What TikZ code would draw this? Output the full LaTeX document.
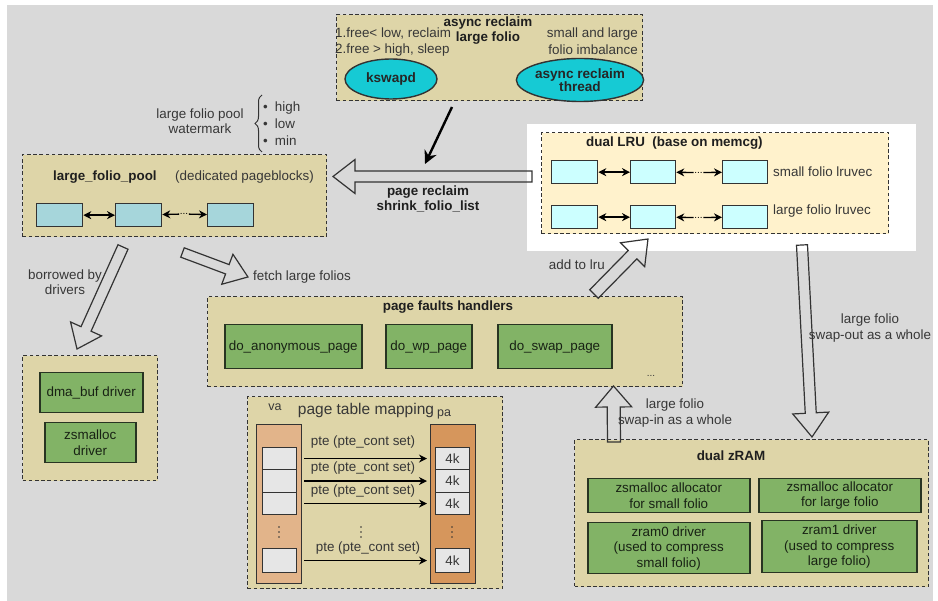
\documentclass[tikz,border=0pt]{standalone}
\usepackage{fontspec}
\setmainfont{Liberation Sans}
\usetikzlibrary{arrows.meta,calc,shapes.geometric,decorations.pathreplacing}

\definecolor{bggray}{RGB}{217,217,217}
\definecolor{tanfill}{RGB}{222,213,168}
\definecolor{lrufill}{RGB}{255,242,204}
\definecolor{cyanell}{RGB}{22,202,212}
\definecolor{poolcellc}{RGB}{166,214,219}
\definecolor{lrucellc}{RGB}{204,255,255}
\definecolor{gboxfill}{RGB}{130,179,102}
\definecolor{gboxline}{RGB}{40,52,34}
\definecolor{gtext}{RGB}{24,34,20}
\definecolor{vafill}{RGB}{226,180,138}
\definecolor{pafill}{RGB}{214,150,92}
\definecolor{slotgray}{RGB}{230,230,230}
\definecolor{ink}{RGB}{51,51,51}
\definecolor{lblink}{RGB}{55,55,55}

% box placed by its top-left and bottom-right corners
\def\placebox#1#2(#3,#4)(#5,#6)#7{\node[#1,anchor=north west,minimum width={#5-#3},minimum height={#6-#4}] (#2) at (#3,#4) {#7};}

% wide outlined arrow from tail to tip: shaft half width, head half width, head length
\newcommand\hollowarrow[5]{%
  \draw[fatarrow] let \p1=(#1), \p2=(#2),
      \n1={atan2(\y2-\y1,\x2-\x1)}, \n2={veclen(\x2-\x1,\y2-\y1)} in
    {[shift={(\p1)},rotate=\n1]
     (0,-#3) -- ({\n2-#5},-#3) -- ({\n2-#5},-#4) -- (\n2,0) -- ({\n2-#5},#4) -- ({\n2-#5},#3) -- (0,#3) -- cycle};}

% three stacked dots marking omitted rows
\newcommand\vdotsat[2]{\foreach \dy in {-5,0,5} \fill[ink] (#1,#2+\dy) circle (0.9pt);}

\begin{document}
\begin{tikzpicture}[x=1pt,y=-1pt,
  font=\fontsize{13.4}{15.5}\selectfont, text=lblink,
  grp/.style={draw=ink, fill=tanfill, line width=1.3pt, dash pattern=on 3.6pt off 2.6pt, inner sep=0pt},
  lrugrp/.style={grp, fill=lrufill},
  panel/.style={fill=white, draw=none, inner sep=0pt},
  ell/.style={ellipse, draw=ink, fill=cyanell, line width=1.4pt, inner sep=0pt, align=center,
              text=black!85, font=\bfseries\fontsize{13.6}{15}\selectfont},
  cell/.style={draw=ink, line width=1.3pt, inner sep=0pt},
  poolcell/.style={cell, fill=poolcellc},
  lrucell/.style={cell, fill=lrucellc},
  gbox/.style={draw=gboxline, fill=gboxfill, line width=1.5pt, text=gtext, align=center, inner sep=0pt},
  col/.style={draw=ink, line width=1.2pt, inner sep=0pt},
  slot/.style={draw=ink, fill=slotgray, line width=1.1pt, inner sep=0pt},
  lbl/.style={inner sep=0pt, align=center},
  ttl/.style={inner sep=0pt, align=center, text=black!88, font=\bfseries\fontsize{13.4}{15.5}\selectfont},
  dotsl/.style={inner sep=0.5pt, text=black, font=\fontsize{10}{10}\selectfont},
  dlink/.style={{Stealth[length=8pt,width=8pt]}-{Stealth[length=8pt,width=8pt]}, line width=1.3pt, black},
  tolink/.style={-{Stealth[length=8pt,width=8pt]}, line width=1.3pt, black},
  fatarrow/.style={draw=ink, line width=1.2pt, line join=miter}]

\useasboundingbox (0,0) rectangle (938,601);
\fill[bggray] (7,5) rectangle (933,601);

% ---- async reclaim of large folios
\placebox{grp}{async}(336,14)(642,100){}
\node[ttl] (asyncA) at (488,23) {async reclaim};
\node[ttl] (asyncB) at (488,38) {large folio};
\node[lbl, anchor=west] (ruleA) at (335,34) {1.free< low, reclaim};
\node[lbl, anchor=west] (ruleB) at (335,50) {2.free > high, sleep};
\node[lbl, anchor=east] (imbA) at (638,34) {small and large};
\node[lbl, anchor=east] (imbB) at (638,50) {folio imbalance};
\node[ell, minimum width=92, minimum height=40] (kswapd) at (391,79) {kswapd};
\node[ell, minimum width=104, minimum height=43] (athread) at (580,80) {async reclaim\\[-2pt]thread};

% ---- large folio pool
\placebox{grp}{pool}(22,154)(326,236){}
\node[ttl, anchor=west] (poolname) at (53,177) {large\_folio\_pool};
\node[lbl, anchor=west] (pooldesc) at (175,177) {(dedicated pageblocks)};
\placebox{poolcell}{pA}(36,203)(82,226){}
\placebox{poolcell}{pB}(115,203)(161,226){}
\placebox{poolcell}{pC}(207,203)(253,226){}
\draw[dlink] (pA) -- (pB);
\node[dotsl] (pdots) at (184,214) {...};
\draw[tolink] (pdots) -- (pB);
\draw[tolink] (pdots) -- (pC);

% watermark levels
\node[lbl] (wmark) at (200,121) {large folio pool\\watermark};
\draw[ink, line width=1pt, decorate, decoration={brace, amplitude=7pt}] (262,152) -- (262,95);
\node[lbl, anchor=west] (wmHigh) at (263,108) {\textbullet\hspace{7pt}high};
\node[lbl, anchor=west] (wmLow) at (263,124) {\textbullet\hspace{7pt}low};
\node[lbl, anchor=west] (wmMin) at (263,141) {\textbullet\hspace{7pt}min};

% ---- dual LRU
\placebox{panel}{lrupanel}(527,124)(916,251){}
\placebox{lrugrp}{lru}(541,132)(888,233){}
\node[ttl, anchor=west] (lrutitle) at (586,143) {dual LRU\ \ (base on memcg)};
\placebox{lrucell}{sA}(551,160)(597,183){}
\placebox{lrucell}{sB}(630,160)(675,183){}
\placebox{lrucell}{sC}(722,160)(767,183){}
\placebox{lrucell}{lA}(551,205)(597,228){}
\placebox{lrucell}{lB}(630,205)(675,228){}
\placebox{lrucell}{lC}(722,205)(767,228){}
\draw[dlink] (sA) -- (sB);
\draw[dlink] (lA) -- (lB);
\node[dotsl] (sdots) at (698.5,172.5) {...};
\node[dotsl] (ldots) at (698.5,217.5) {...};
\draw[tolink] (sdots) -- (sB);
\draw[tolink] (sdots) -- (sC);
\draw[tolink] (ldots) -- (lB);
\draw[tolink] (ldots) -- (lC);
\node[lbl, anchor=west] (smallvec) at (773,172) {small folio lruvec};
\node[lbl, anchor=west] (largevec) at (773,211) {large folio lruvec};

% ---- page fault handlers
\placebox{grp}{faults}(207,296)(682,386){}
\node[ttl] (faultstitle) at (448,307) {page faults handlers};
\placebox{gbox}{anon}(224,324)(361,368){do\_anonymous\_page}
\placebox{gbox}{wp}(385,324)(471,368){do\_wp\_page}
\placebox{gbox}{swp}(497,324)(611,368){do\_swap\_page}
\node[dotsl, text=lblink] (fdots) at (651,376) {...};

% ---- drivers borrowing from the pool
\placebox{grp}{drivers}(22,355)(157,480){}
\placebox{gbox}{dmabuf}(39,372)(142,412){dma\_buf driver}
\placebox{gbox}{zsdrv}(44,422)(135,462){zsmalloc\\driver}

% ---- page table mapping
\placebox{grp}{ptm}(247,396)(502,588){}
\node[lbl, font=\fontsize{15.5}{17}\selectfont] (ptmtitle) at (366,410) {page table mapping};
\node[lbl, font=\fontsize{12.5}{14}\selectfont] (valbl) at (275,407) {va};
\node[lbl, font=\fontsize{12.5}{14}\selectfont] (palbl) at (444,414) {pa};
\placebox{col, fill=vafill}{vacol}(256,424)(301,583){}
\placebox{col, fill=pafill}{pacol}(430,424)(475,583){}
\placebox{slot}{vaA}(262,447)(296,469){}
\placebox{slot}{vaB}(262,469)(296,492){}
\placebox{slot}{vaC}(262,492)(296,514){}
\placebox{slot}{vaD}(262,548)(296,572){}
\placebox{slot}{paA}(435,447)(469,469){4k}
\placebox{slot}{paB}(435,469)(469,492){4k}
\placebox{slot}{paC}(435,492)(469,514){4k}
\placebox{slot}{paD}(435,548)(469,572){4k}
\vdotsat{279}{532}
\vdotsat{361}{532}
\vdotsat{452}{532}
\foreach \r in {A,B,C,D}
  \draw[tolink] ($(vacol.east |- va\r.center)+(2,0)$) -- ($(pacol.west |- pa\r.center)+(-3,0)$);
\node[lbl] (pteA) at (363,442) {pte (pte\_cont set)};
\node[lbl] (pteB) at (363,468) {pte (pte\_cont set)};
\node[lbl] (pteC) at (363,491) {pte (pte\_cont set)};
\node[lbl] (pteD) at (368,548) {pte (pte\_cont set)};

% ---- dual zRAM
\placebox{grp}{zram}(574,439)(928,586){}
\node[ttl] (zramtitle) at (731,456) {dual zRAM};
\placebox{gbox}{zsS}(587,478)(749,512){zsmalloc allocator\\for small folio}
\placebox{gbox}{zsL}(758,478)(920,512){zsmalloc allocator\\for large folio}
\placebox{gbox}{zramA}(587,522)(749,573){zram0 driver\\(used to compress\\small folio)}
\placebox{gbox}{zramB}(761,520)(916,572){zram1 driver\\(used to compress\\large folio)}

% ---- flows between the blocks
\coordinate (kickTail) at (452,107);
\coordinate (kickTip) at (425,164);
\draw[-{Stealth[length=13pt,width=13pt]}, line width=2.4pt, black] (kickTail) -- (kickTip);

\coordinate (reclaimTail) at (532,176.5);
\coordinate (reclaimTip) at (333,176.5);
\hollowarrow{reclaimTail}{reclaimTip}{5.5}{17}{22}
\node[ttl] (reclaimlbl) at (428,199) {page reclaim\\shrink\_folio\_list};

\coordinate (borrowTail) at (123,247);
\coordinate (borrowTip) at (77,349);
\hollowarrow{borrowTail}{borrowTip}{5.5}{17}{22}
\node[lbl] (borrowlbl) at (65,282) {borrowed by\\drivers};

\coordinate (fetchTail) at (182.5,252.5);
\coordinate (fetchTip) at (248,277);
\hollowarrow{fetchTail}{fetchTip}{5}{16}{22}
\node[lbl, anchor=west] (fetchlbl) at (253,277) {fetch large folios};

\coordinate (addTail) at (594,294);
\coordinate (addTip) at (648,239);
\hollowarrow{addTail}{addTip}{6}{17}{22}
\node[lbl, anchor=east] (addlbl) at (605,265) {add to lru};

\coordinate (swapinTail) at (614,442);
\coordinate (swapinTip) at (613.5,386);
\hollowarrow{swapinTail}{swapinTip}{6.5}{18}{21}
\node[lbl] (swapinlbl) at (675,413) {large folio\\swap-in as a whole};

\coordinate (swapoutTail) at (802,245);
\coordinate (swapoutTip) at (812,437);
\hollowarrow{swapoutTail}{swapoutTip}{5.5}{18}{24}
\node[lbl] (swapoutlbl) at (870,328) {large folio\\swap-out as a whole};

\end{tikzpicture}
\end{document}
